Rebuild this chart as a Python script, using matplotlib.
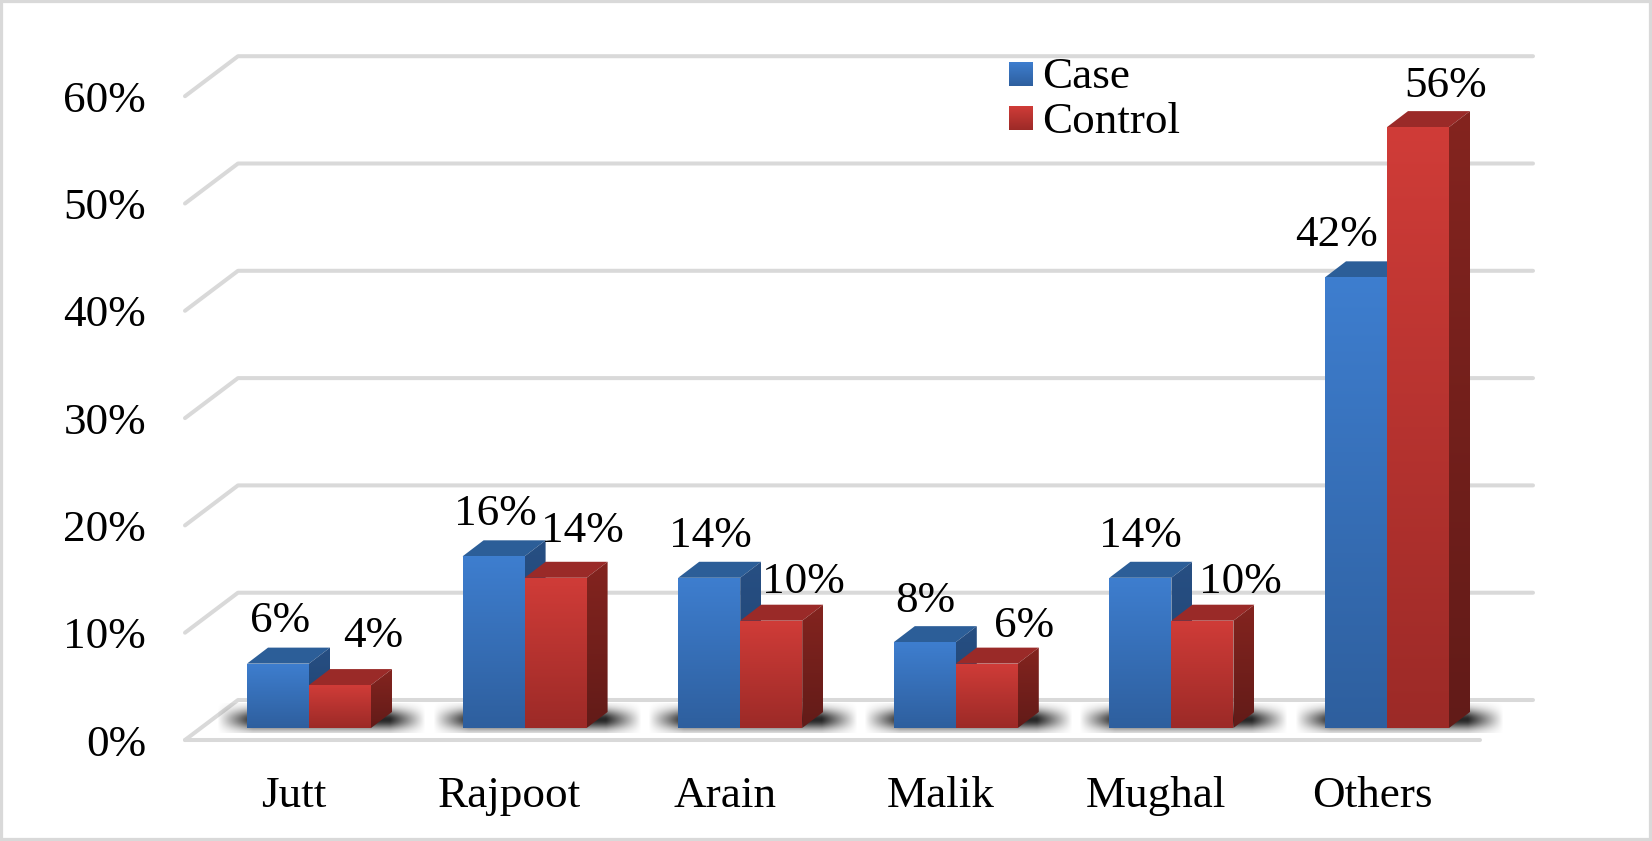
import numpy as np
from matplotlib import pyplot as plt
from matplotlib.patches import Polygon, Rectangle
from matplotlib.colors import to_rgb

plt.rcParams['font.family'] = ['Liberation Serif', 'DejaVu Serif']

categories = ['Jutt', 'Rajpoot', 'Arain', 'Malik', 'Mughal', 'Others']
case_vals = [6, 16, 14, 8, 14, 42]
control_vals = [4, 14, 10, 6, 10, 56]
y_ticks = [0, 10, 20, 30, 40, 50, 60]

# label nudges in pixels, from front face centre / top of the bar
case_dx = [2, 2, 1, 1, 0, -20]
case_dy = [32, 31, 31, 30, 31, 31]
control_dx = [33, 27, 32, 37, 38, 28]
control_dy = [38, 36, 28, 27, 28, 30]

W, H = 1652, 841
X_PX = 215.6    # px per category
Y_PX = 10.73    # px per percent
X0_PX = 309     # px of category 0
Y0_PX = 728     # px of 0% at the bars front
BAR_W = 62 / X_PX
DEPTH_X = 21 / X_PX
DEPTH_Y = 16 / Y_PX
FONT = 32.5
GRID = '#d9d9d9'

BLUE = dict(front=('#3e7ecf', '#2e5f9e'), side=('#274f83', '#1f4270'), top='#2c5e98')
RED = dict(front=('#d03c38', '#9c2a27'), side=('#84241f', '#621b18'), top='#9a2a28')


def px_x(p):
    return p / X_PX


def px_y(p):
    return p / Y_PX


fig = plt.figure(figsize=(W / 100, H / 100), dpi=100)
ax = fig.add_axes([0, 0, 1, 1])
xlim = ((0 - X0_PX) / X_PX, (W - X0_PX) / X_PX)
ylim = ((Y0_PX - H) / Y_PX, Y0_PX / Y_PX)
ax.axis('off')


def gradient(poly, top, bottom, z):
    # vertical gradient clipped to a polygon
    poly = np.array(poly)
    c = np.linspace(np.array(to_rgb(top)), np.array(to_rgb(bottom)), 128).reshape(128, 1, 3)
    im = ax.imshow(c, extent=(poly[:, 0].min(), poly[:, 0].max(), poly[:, 1].min(), poly[:, 1].max()),
                   aspect='auto', origin='upper', zorder=z, interpolation='bilinear')
    clip = Polygon(poly, closed=True, transform=ax.transData, fc='none', ec='none')
    ax.add_patch(clip)
    im.set_clip_path(clip)


def draw_bar(x, val, style, z):
    x2 = x + BAR_W
    dx, dy = DEPTH_X, DEPTH_Y
    ax.add_patch(Polygon([(x, val), (x2, val), (x2 + dx, val + dy), (x + dx, val + dy)],
                         closed=True, fc=style['top'], ec='none', zorder=z))
    gradient([(x2, 0), (x2 + dx, dy), (x2 + dx, val + dy), (x2, val)], style['side'][0], style['side'][1], z)
    gradient([(x, 0), (x2, 0), (x2, val), (x, val)], style['front'][0], style['front'][1], z + 0.1)


def draw_shadow(x1, x2):
    # soft shadow on the floor behind a bar pair
    nx, ny = 200, 40
    u = np.linspace(0, 1, nx)
    v = np.linspace(0, 1, ny)
    edge = np.clip(np.minimum(u, 1 - u) / 0.17, 0, 1)
    ay_a = np.exp(-((v - 0.55) / 0.34) ** 2)
    a = np.outer(ay_a, edge) * 0.85
    img = np.zeros((ny, nx, 4))
    img[..., 3] = a
    ax.imshow(img, extent=(x1, x2, -px_y(5), px_y(24)), aspect='auto', origin='upper',
              zorder=2, interpolation='bilinear')


# floor and wall grid lines
front_x = px_x(-16)
front_y = px_y(-12)
back_x = px_x(37)
back_y = px_y(28)
x_left = (201 - X0_PX) / X_PX
x_right = (1496 - X0_PX) / X_PX
line_kw = dict(color=GRID, lw=2.9, solid_capstyle='round', zorder=1)
for t in y_ticks:
    ax.plot([x_left + front_x, x_left + back_x, x_right + back_x],
            [t + front_y, t + back_y, t + back_y], **line_kw)
ax.plot([x_left + front_x, x_right + front_x], [front_y, front_y], **line_kw)

# bars
for i in range(len(categories)):
    draw_shadow(i - BAR_W - px_x(30), i + BAR_W + px_x(55))
for i in range(len(categories)):
    draw_bar(i - BAR_W, case_vals[i], BLUE, 3 + i)
    draw_bar(i, control_vals[i], RED, 3.3 + i)

# data labels
for i in range(len(categories)):
    ax.text(i - BAR_W / 2 + px_x(case_dx[i]), case_vals[i] + px_y(case_dy[i]), '%d%%' % case_vals[i],
            fontsize=FONT, ha='center', va='baseline', zorder=20)
    ax.text(i + BAR_W / 2 + px_x(control_dx[i]), control_vals[i] + px_y(control_dy[i]), '%d%%' % control_vals[i],
            fontsize=FONT, ha='center', va='baseline', zorder=20)

# axis labels
for t in y_ticks:
    ax.text(px_x(146 - X0_PX), t + front_y, '%d%%' % t, fontsize=FONT, ha='right', va='center_baseline', zorder=20)
for i, c in enumerate(categories):
    ax.text(i + px_x(-15), px_y(Y0_PX - 807), c, fontsize=FONT, ha='center', va='baseline', zorder=20)


# legend
def to_data(px, py):
    return (px - X0_PX) / X_PX, (Y0_PX - py) / Y_PX


for name, style, y_top, base in [('Case', BLUE, 62, 88), ('Control', RED, 106, 133)]:
    x1, y1 = to_data(1009, y_top)
    x2, y2 = to_data(1033, y_top + 24)
    gradient([(x1, y1), (x2, y1), (x2, y2), (x1, y2)], style['front'][0], style['front'][1], 20)
    tx, ty = to_data(1042, base)
    ax.text(tx, ty, name, fontsize=FONT, ha='left', va='baseline', zorder=20)

# chart border
ax.add_patch(Rectangle((0, 0), 1, 1, transform=ax.transAxes, fc='none', ec=GRID, lw=4.5, zorder=30))

ax.set_xlim(xlim)
ax.set_ylim(ylim)
fig.savefig('out.png', dpi=100, facecolor='white')
